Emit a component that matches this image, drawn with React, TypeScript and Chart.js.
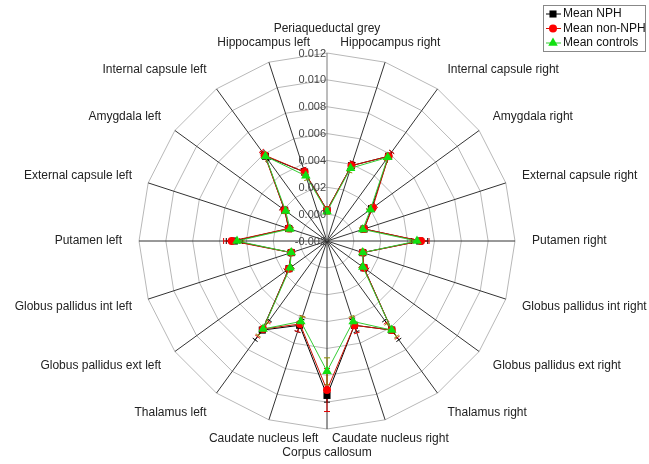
import React, { useEffect, useRef } from 'react';
import { Chart, registerables } from 'chart.js';
Chart.register(...registerables);

const categories = [
  'Periaqueductal grey', 'Hippocampus right', 'Internal capsule right', 'Amygdala right',
  'External capsule right', 'Putamen right', 'Globus pallidus int right', 'Globus pallidus ext right',
  'Thalamus right', 'Caudate nucleus right', 'Corpus callosum', 'Caudate nucleus left',
  'Thalamus left', 'Globus pallidus ext left', 'Globus pallidus int left', 'Putamen left',
  'External capsule left', 'Amygdala left', 'Internal capsule left', 'Hippocampus left',
];

const meanNPH = [0.0003, 0.0039, 0.0058, 0.0021, 0.0009, 0.0049, 0.0008, 0.0014, 0.0062, 0.0046, 0.0095, 0.0046, 0.0062, 0.0015, 0.0008, 0.0049, 0.0010, 0.0019, 0.0058, 0.0034];
const meanNonNPH = [0.0003, 0.0039, 0.0058, 0.0022, 0.0009, 0.0050, 0.0008, 0.0014, 0.0062, 0.0046, 0.0091, 0.0045, 0.0061, 0.0015, 0.0008, 0.0051, 0.0010, 0.0019, 0.0059, 0.0034];
const meanControls = [0.0002, 0.0037, 0.0057, 0.0020, 0.0008, 0.0047, 0.0008, 0.0013, 0.0062, 0.0043, 0.0077, 0.0043, 0.0061, 0.0014, 0.0008, 0.0047, 0.0009, 0.0018, 0.0058, 0.0031];

const errNPH = [0.0002, 0.0003, 0.0004, 0.0003, 0.0002, 0.0006, 0.0002, 0.0003, 0.0009, 0.0005, 0.0005, 0.0005, 0.0009, 0.0003, 0.0002, 0.0006, 0.0002, 0.0003, 0.0004, 0.0003];
const errNonNPH = [0.0002, 0.0003, 0.0004, 0.0003, 0.0002, 0.0006, 0.0002, 0.0003, 0.0007, 0.0006, 0.0016, 0.0006, 0.0007, 0.0003, 0.0002, 0.0006, 0.0002, 0.0003, 0.0004, 0.0003];
const errControls = [0.0002, 0.0003, 0.0003, 0.0002, 0.0002, 0.0005, 0.0002, 0.0002, 0.0006, 0.0004, 0.0010, 0.0004, 0.0006, 0.0002, 0.0002, 0.0005, 0.0002, 0.0002, 0.0003, 0.0003];

const seriesNames = ['Mean NPH', 'Mean non-NPH', 'Mean controls'];
const tickMin = -0.002;
const tickMax = 0.012;
const tickStep = 0.002;

const FONT = '"Liberation Sans", Arial, sans-serif';
const errorSets = [errNPH, errNonNPH, errControls];
const errColors = ['#000000', '#e00000', '#8a8a00'];

function drawMarker(ctx: CanvasRenderingContext2D, style: string, x: number, y: number, r: number, color: string) {
  ctx.save();
  ctx.fillStyle = color;
  ctx.strokeStyle = color;
  ctx.beginPath();
  if (style === 'rect') {
    const s = r * Math.SQRT1_2;
    ctx.rect(x - s, y - s, 2 * s, 2 * s);
  } else if (style === 'circle') {
    ctx.arc(x, y, r, 0, Math.PI * 2);
  } else {
    ctx.moveTo(x, y - r);
    ctx.lineTo(x + r * Math.sin((2 * Math.PI) / 3), y - r * Math.cos((2 * Math.PI) / 3));
    ctx.lineTo(x + r * Math.sin((4 * Math.PI) / 3), y - r * Math.cos((4 * Math.PI) / 3));
    ctx.closePath();
  }
  ctx.fill();
  ctx.restore();
}

const overlayPlugin = {
  id: 'overlay',
  beforeDatasetsDraw(chart: any) {
    const ctx: CanvasRenderingContext2D = chart.ctx;
    const scale = chart.scales.r;
    ctx.save();
    ctx.lineWidth = 1;
    chart.data.datasets.forEach((ds: any, di: number) => {
      const errs = errorSets[di];
      ctx.strokeStyle = errColors[di];
      ds.data.forEach((v: number, i: number) => {
        const e = errs[i];
        const a = scale.getIndexAngle(i) - Math.PI / 2;
        const px = -Math.sin(a), py = Math.cos(a);
        const p1 = scale.getPointPositionForValue(i, v - e);
        const p2 = scale.getPointPositionForValue(i, v + e);
        ctx.beginPath();
        ctx.moveTo(p1.x, p1.y);
        ctx.lineTo(p2.x, p2.y);
        [p1, p2].forEach((p: any) => {
          ctx.moveTo(p.x - px * 3, p.y - py * 3);
          ctx.lineTo(p.x + px * 3, p.y + py * 3);
        });
        ctx.stroke();
      });
    });
    ctx.restore();
  },
  afterDraw(chart: any) {
    const ctx: CanvasRenderingContext2D = chart.ctx;
    const scale = chart.scales.r;
    const xc = scale.xCenter, yc = scale.yCenter;
    ctx.save();
    // point labels
    ctx.font = '12px ' + FONT;
    ctx.fillStyle = '#222';
    ctx.textBaseline = 'middle';
    const dist = scale.drawingArea + 17;
    chart.data.labels.forEach((lab: string, i: number) => {
      const p = scale.getPointPosition(i, dist);
      const dx = p.x - xc;
      const cosT = -(p.y - yc) / dist;
      let off = 7 * cosT;
      if (Math.abs(dx) < 0.35 * dist) {
        ctx.textAlign = 'center';
        if (Math.abs(dx) > 5) off = 3 * Math.sign(cosT);
      } else if (dx > 0) ctx.textAlign = 'left';
      else ctx.textAlign = 'right';
      ctx.fillText(lab, p.x, p.y - off);
    });
    // tick labels
    ctx.font = '11px ' + FONT;
    ctx.fillStyle = '#444';
    ctx.textAlign = 'right';
    scale.ticks.forEach((t: any) => {
      const d = scale.getDistanceFromCenterForValue(t.value);
      ctx.fillText(t.value.toFixed(3), xc - 1, yc - d + 0.5);
    });
    // legend
    const bx = 543.5, by = 5.5, bw = 102, bh = 46;
    ctx.fillStyle = '#fff';
    ctx.fillRect(bx, by, bw, bh);
    ctx.strokeStyle = '#888';
    ctx.lineWidth = 1;
    ctx.strokeRect(bx, by, bw, bh);
    ctx.font = '12px ' + FONT;
    ctx.textAlign = 'left';
    chart.data.datasets.forEach((ds: any, di: number) => {
      const y = 14 + di * 14.5;
      ctx.strokeStyle = ds.borderColor;
      ctx.lineWidth = 1;
      ctx.beginPath();
      ctx.moveTo(546, y);
      ctx.lineTo(561, y);
      ctx.stroke();
      drawMarker(ctx, ds.pointStyle, 553, y, ds.pointRadius, ds.pointBackgroundColor);
      ctx.fillStyle = '#111';
      ctx.fillText(seriesNames[di], 563, y);
    });
    ctx.restore();
  },
};

export default function App() {
  const ref = useRef<HTMLCanvasElement | null>(null);
  useEffect(() => {
    if (!ref.current) return;
    const chart = new Chart(ref.current, {
      type: 'radar',
      data: {
        labels: categories,
        datasets: [
          {
            label: seriesNames[0], data: meanNPH, borderColor: '#000000', borderWidth: 1,
            backgroundColor: 'transparent', fill: false, pointStyle: 'rect', pointRadius: 5,
            pointBackgroundColor: '#000000', pointBorderColor: '#000000', pointBorderWidth: 0, order: 3,
          },
          {
            label: seriesNames[1], data: meanNonNPH, borderColor: '#cc1100', borderWidth: 1,
            backgroundColor: 'transparent', fill: false, pointStyle: 'circle', pointRadius: 4,
            pointBackgroundColor: '#ff0000', pointBorderColor: '#ff0000', pointBorderWidth: 0, order: 2,
          },
          {
            label: seriesNames[2], data: meanControls, borderColor: '#33cc33', borderWidth: 1,
            backgroundColor: 'transparent', fill: false, pointStyle: 'triangle', pointRadius: 5.5,
            pointBackgroundColor: '#11e011', pointBorderColor: '#11e011', pointBorderWidth: 0, order: 1,
          },
        ],
      } as any,
      options: {
        animation: false,
        responsive: false,
        devicePixelRatio: 1,
        layout: { padding: { left: 139, right: 134, top: 53, bottom: 35 } },
        plugins: { legend: { display: false }, tooltip: { enabled: false } },
        elements: { line: { tension: 0 } },
        scales: {
          r: {
            min: tickMin,
            max: tickMax,
            ticks: { stepSize: tickStep, display: false },
            pointLabels: { display: false },
            grid: { color: '#b8b8b8', lineWidth: 1, circular: false },
            angleLines: {
              color: (c: any) => (c.index === 0 ? '#7a7a7a' : '#333333'),
              lineWidth: 1,
            },
          },
        },
      } as any,
      plugins: [overlayPlugin],
    });
    return () => chart.destroy();
  }, []);
  return (
    <div style={{ position: 'fixed', left: 0, top: 0, width: 649, height: 464, background: '#fff' }}>
      <canvas ref={ref} width={649} height={464} style={{ width: 649, height: 464 }} />
    </div>
  );
}
